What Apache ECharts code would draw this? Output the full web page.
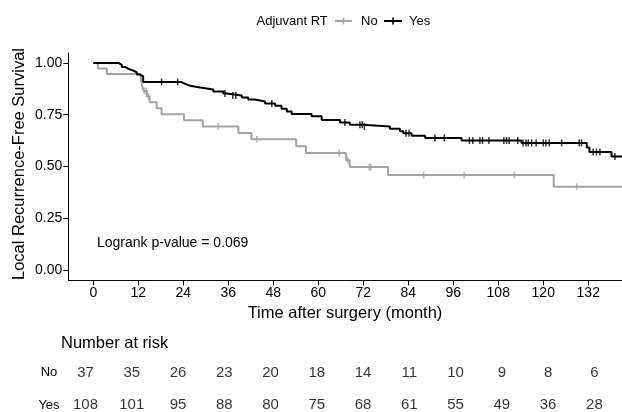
<!DOCTYPE html>
<html><head><meta charset="utf-8">
<script src="https://cdn.jsdelivr.net/npm/echarts@6/dist/echarts.min.js"></script>
<style>html,body{margin:0;padding:0;background:#fff}#c{width:622px;height:412px}</style>
</head><body><div id="c"></div>
<script>
const FONT = '"Liberation Sans", Arial, sans-serif';
const GRAY = '#a3a3a3', BLACK = '#000000';

const xTicks = [0, 12, 24, 36, 48, 60, 72, 84, 96, 108, 120, 132];
const yTicks = [0, 0.25, 0.5, 0.75, 1];

const noTimes = [0, 1.2, 3.6, 12.7, 13.0, 13.4, 14.3, 15.0, 16.9, 18.2, 24.2, 29.2, 38.7, 42.2, 54.1, 56.7, 67.4, 68.4, 78.6, 122.8];
const noSurv  = [1, 0.973, 0.946, 0.919, 0.892, 0.865, 0.838, 0.810, 0.781, 0.752, 0.723, 0.693, 0.662, 0.631, 0.598, 0.565, 0.530, 0.497, 0.459, 0.402];
const noCensor = [13.6, 14.1, 14.7, 33.3, 43.6, 65.6, 67.9, 73.6, 74.0, 88.1, 98.9, 112.3, 128.9];

const yesTimes = [0, 6.7, 7.6, 8.5, 9.3, 10.7, 11.6, 12.5, 13.3, 23.4, 24.5, 25.8, 28.5, 32.0, 34.7, 35.6, 39.6, 41.3, 43.1, 45.8, 48.5, 50.2, 51.6, 52.9, 58.2, 60.9, 65.8, 68.4, 72.0, 79.1, 81.8, 82.7, 84.9, 88.5, 98.2, 114.2, 131.6, 132.3, 138.2];
const yesSurv  = [1, 0.991, 0.981, 0.972, 0.963, 0.954, 0.944, 0.935, 0.908, 0.899, 0.890, 0.881, 0.872, 0.862, 0.852, 0.843, 0.833, 0.823, 0.814, 0.804, 0.793, 0.779, 0.766, 0.753, 0.742, 0.724, 0.712, 0.702, 0.693, 0.682, 0.670, 0.660, 0.649, 0.638, 0.626, 0.614, 0.592, 0.570, 0.548];
const yesCensor = [18.2, 22.5, 35.1, 37.2, 38.0, 47.6, 67.1, 71.1, 71.7, 72.3, 83.4, 84.2, 91.1, 93.6, 100.3, 101.2, 103.1, 103.8, 105.5, 109.5, 110.2, 110.9, 113.2, 114.6, 115.4, 116.0, 116.9, 118.1, 120.0, 120.7, 121.6, 124.9, 129.6, 130.2, 133.3, 134.2, 135.1, 139.1];

const followEnd = 141;
const riskGroups = ['Yes', 'No'];
const riskNo  = [37, 35, 26, 23, 20, 18, 14, 11, 10, 9, 8, 6];
const riskYes = [108, 101, 95, 88, 80, 75, 68, 61, 55, 49, 36, 28];

function stepLine(times, surv) {
  const d = times.map((t, i) => [t, surv[i]]);
  d.push([followEnd, surv[surv.length - 1]]);
  return d;
}
function censorPts(times, surv, cens) {
  return cens.map(c => {
    let s = surv[0];
    for (let i = 0; i < times.length; i++) { if (times[i] <= c) s = surv[i]; }
    return [c, s];
  });
}

const chart = echarts.init(document.getElementById('c'), null, {renderer: 'canvas'});
const axisTxt = {color: '#000', fontFamily: FONT, fontSize: 14};
const riskLabel = {show: true, position: 'inside', formatter: p => String(p.value[2]), color: '#000', fontFamily: FONT, fontSize: 15};

chart.setOption({
  animation: false,
  backgroundColor: '#fff',
  grid: [
    {left: 68.3, top: 53, width: 553.7, height: 227.4},
    {left: 59.8, top: 372.7, width: 550, height: 32.3}
  ],
  xAxis: [
    {type: 'value', gridIndex: 0, min: -6.67, max: 141,
     axisLine: {onZero: false, lineStyle: {color: '#000', width: 1}},
     axisTick: {show: true, length: 5, lineStyle: {color: '#000', width: 1}, customValues: xTicks},
     axisLabel: Object.assign({margin: 6, customValues: xTicks}, axisTxt),
     splitLine: {show: false}},
    {type: 'value', gridIndex: 1, min: -6.67, max: 136, show: false}
  ],
  yAxis: [
    {type: 'value', gridIndex: 0, min: -0.05, max: 1.048,
     axisLine: {show: true, onZero: false, lineStyle: {color: '#000', width: 1}},
     axisTick: {show: true, length: 5, lineStyle: {color: '#000', width: 1}, customValues: yTicks},
     axisLabel: Object.assign({margin: 6, customValues: yTicks, formatter: v => v.toFixed(2)}, axisTxt),
     splitLine: {show: false}},
    {type: 'value', gridIndex: 1, min: 0, max: 1,
     axisLine: {show: false}, axisTick: {show: false}, splitLine: {show: false},
     axisLabel: {customValues: [0, 1], formatter: v => riskGroups[v], color: '#000', fontFamily: FONT, fontSize: 13, align: 'center', margin: 10.8}}
  ],
  series: [
    {type: 'line', name: 'No', xAxisIndex: 0, yAxisIndex: 0, step: 'end', showSymbol: false,
     data: stepLine(noTimes, noSurv), lineStyle: {color: GRAY, width: 2}, itemStyle: {color: GRAY}, z: 2},
    {type: 'scatter', xAxisIndex: 0, yAxisIndex: 0, symbol: 'rect', symbolSize: [1.5, 7],
     data: censorPts(noTimes, noSurv, noCensor), itemStyle: {color: GRAY}, z: 3},
    {type: 'line', name: 'Yes', xAxisIndex: 0, yAxisIndex: 0, step: 'end', showSymbol: false,
     data: stepLine(yesTimes, yesSurv), lineStyle: {color: BLACK, width: 2}, itemStyle: {color: BLACK}, z: 4},
    {type: 'scatter', xAxisIndex: 0, yAxisIndex: 0, symbol: 'rect', symbolSize: [1.5, 7],
     data: censorPts(yesTimes, yesSurv, yesCensor), itemStyle: {color: BLACK}, z: 5},
    {type: 'scatter', xAxisIndex: 1, yAxisIndex: 1, symbolSize: 1, itemStyle: {color: 'rgba(0,0,0,0)'},
     data: xTicks.map((t, i) => [t, riskGroups.indexOf('No'), riskNo[i]]), label: riskLabel},
    {type: 'scatter', xAxisIndex: 1, yAxisIndex: 1, symbolSize: 1, itemStyle: {color: 'rgba(0,0,0,0)'},
     data: xTicks.map((t, i) => [t, riskGroups.indexOf('Yes'), riskYes[i]]), label: riskLabel}
  ],
  graphic: [
    {type: 'text', left: 256.5, top: 14.5, style: {text: 'Adjuvant RT', fill: '#000', font: '13px ' + FONT}},
    {type: 'line', shape: {x1: 335, y1: 21, x2: 352, y2: 21}, style: {stroke: GRAY, lineWidth: 2}},
    {type: 'line', shape: {x1: 343.5, y1: 17.5, x2: 343.5, y2: 24.5}, style: {stroke: GRAY, lineWidth: 1.5}},
    {type: 'text', left: 361, top: 14.5, style: {text: 'No', fill: '#000', font: '13px ' + FONT}},
    {type: 'line', shape: {x1: 384, y1: 21, x2: 402, y2: 21}, style: {stroke: BLACK, lineWidth: 2}},
    {type: 'line', shape: {x1: 393, y1: 17.5, x2: 393, y2: 24.5}, style: {stroke: BLACK, lineWidth: 1.5}},
    {type: 'text', left: 409, top: 14.5, style: {text: 'Yes', fill: '#000', font: '13px ' + FONT}},
    {type: 'text', x: 19, y: 164, rotation: Math.PI / 2,
     style: {text: 'Local Recurrence-Free Survival', fill: '#000', font: '16.5px ' + FONT, align: 'center', verticalAlign: 'middle'}},
    {type: 'text', x: 345, y: 313,
     style: {text: 'Time after surgery (month)', fill: '#000', font: '16.5px ' + FONT, align: 'center', verticalAlign: 'middle'}},
    {type: 'text', x: 97, y: 243,
     style: {text: 'Logrank p-value = 0.069', fill: '#000', font: '14px ' + FONT, align: 'left', verticalAlign: 'middle'}},
    {type: 'text', x: 61, y: 343,
     style: {text: 'Number at risk', fill: '#000', font: '16.5px ' + FONT, align: 'left', verticalAlign: 'middle'}}
  ]
});
</script></body></html>
